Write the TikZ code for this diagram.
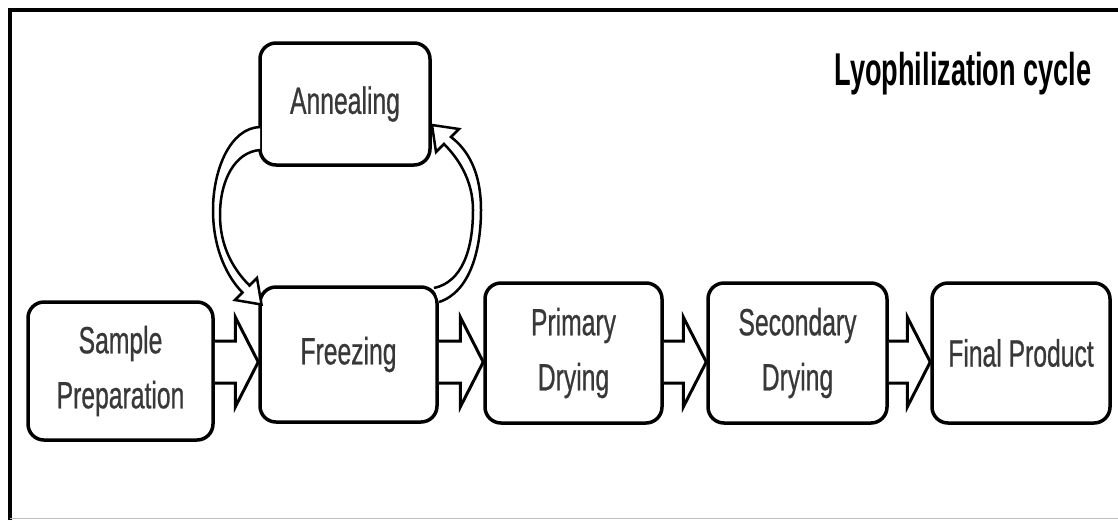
\documentclass[tikz,border=0pt]{standalone}
\usepackage{fontspec}
\newfontfamily\cond[FakeStretch=0.65,FakeBold=0.6]{Liberation Sans}
\newfontfamily\condtitle[FakeStretch=0.59]{Liberation Sans}
\usetikzlibrary{calc}
\newcommand\blockarrow[2]{%
  \draw[blk] ($(#1.east |- yl)+(0,-21)$) -- ($(#2.west |- yl)+(-23,-21)$)
    -- ($(#2.west |- yl)+(-23,-45)$) -- (#2.west |- yl)
    -- ($(#2.west |- yl)+(-23,45)$) -- ($(#2.west |- yl)+(-23,21)$)
    -- ($(#1.east |- yl)+(0,21)$);}
\begin{document}
\begin{tikzpicture}[x=1pt,y=-1pt,
  box/.style={draw=black, line width=3.5pt, rounded corners=16pt, fill=white,
    align=center, text=black!78, inner sep=0pt,
    font=\cond\fontsize{38}{55}\selectfont},
  blk/.style={draw=black, line width=3pt, fill=white, line join=miter},
  curvarr/.style={draw=black, line width=2.5pt, fill=white, line join=miter}]
\useasboundingbox (0,0) rectangle (1118,520);
% frame
\draw[line width=4pt] (9.5,520) -- (9.5,10) -- (1118,10);
\draw[black!25, line width=1.5pt] (9.5,518.5) -- (1118,518.5);
% title
\node[font=\condtitle\bfseries\fontsize{46}{52}\selectfont, anchor=base, text=black] (title) at (963,85) {Lyophilization cycle};
% boxes
\node[box, minimum width=185pt, minimum height=138pt] (sp) at (120.5,371) {Sample\\Preparation};
\node[box, minimum width=177pt, minimum height=135pt] (fr) at (348.5,354.5) {Freezing};
\node[box, minimum width=170pt, minimum height=122pt] (an) at (345,104) {Annealing};
\node[box, minimum width=177pt, minimum height=140pt] (pd) at (573.5,353) {Primary\\Drying};
\node[box, minimum width=179pt, minimum height=140pt] (sd) at (797.5,353) {Secondary\\Drying};
\node[box, minimum width=178pt, minimum height=140pt] (fp) at (1021,353) {Final Product};
% block arrows
\coordinate (yl) at (0,362);
\blockarrow{sp}{fr}
\blockarrow{fr}{pd}
\blockarrow{pd}{sd}
\blockarrow{sd}{fp}
% curved arrows: Annealing -> Freezing (left), Freezing -> Annealing (right)
\filldraw[curvarr] (260,127) .. controls (230,128) and (213,170) .. (213,210)
  .. controls (213,250) and (228,278) .. (242.5,292.5) -- (235,300) -- (261.5,304.5)
  -- (257,278) -- (249.5,285.5) .. controls (232,268) and (220,245) .. (220,215)
  .. controls (220,180) and (235,152) .. (260,150);
\filldraw[curvarr] (439,302) .. controls (470,292) and (481,250) .. (481,210)
  .. controls (481,172) and (468,150) .. (451,137) -- (459,129) -- (432,125)
  -- (436,152) -- (444,144) .. controls (458,158) and (473,180) .. (473,210)
  .. controls (473,250) and (462,282) .. (434,288);
\end{tikzpicture}
\end{document}
